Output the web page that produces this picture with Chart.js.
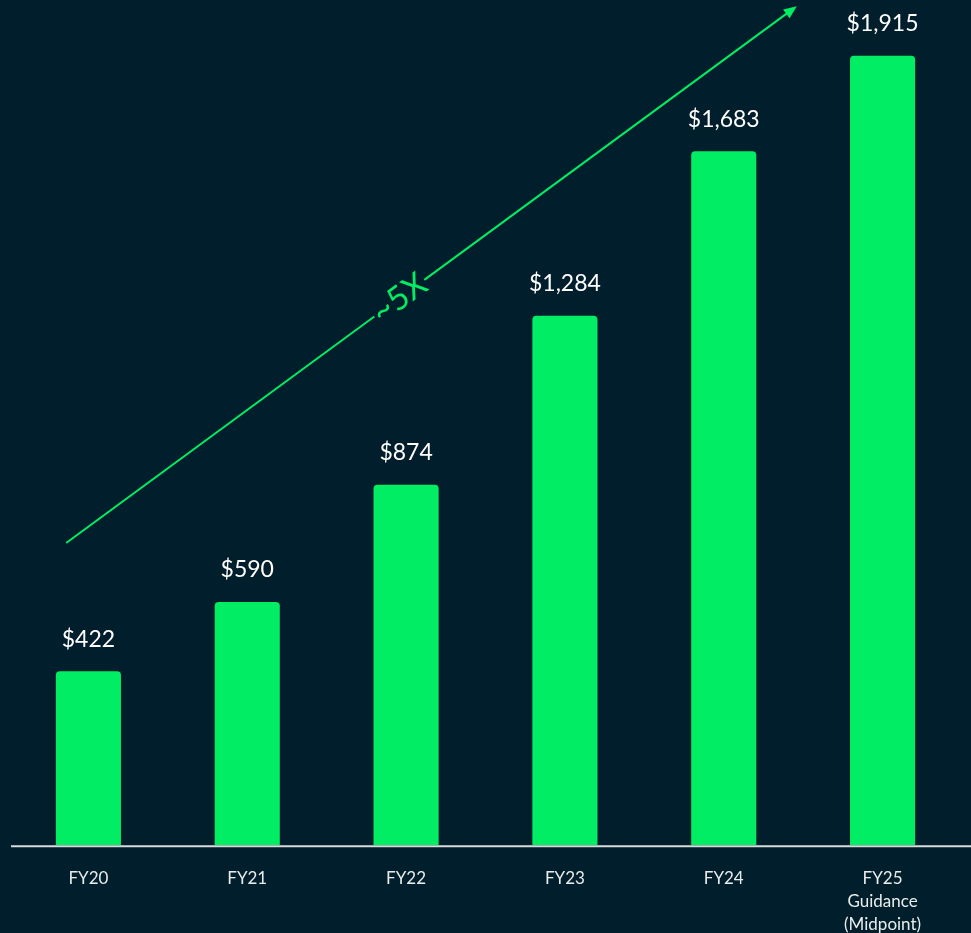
<!DOCTYPE html>
<html>
<head>
<meta charset="utf-8">
<script src="https://cdn.jsdelivr.net/npm/chart.js@4"></script>
<style>
    html, body { margin: 0; padding: 0; background: #001e2b; }
    #wrap { width: 971px; height: 933px; position: relative; }
</style>
</head>
<body>
<div id="wrap"><canvas id="revenue-chart"></canvas></div>
<script>
// Revenue by fiscal year ($M)
var categories = ["FY20", "FY21", "FY22", "FY23", "FY24", ["FY25", "Guidance", "(Midpoint)"]];
var revenue = [422, 590, 874, 1284, 1683, 1915];
var valueLabels = ["$422", "$590", "$874", "$1,284", "$1,683", "$1,915"];

// growth arrow, in [category index, value]
var arrowFrom = [-0.14, 733];
var arrowTo = [4.46, 2035];
var arrowText = "~5X";

var green = "#00ed64";

var extrasPlugin = {
    id: "extras",
    afterDatasetsDraw: function (chart) {
        var ctx = chart.ctx;
        var x = chart.scales.x;
        var y = chart.scales.y;
        var area = chart.chartArea;

        // baseline
        ctx.save();
        ctx.strokeStyle = "#d9dcdc";
        ctx.lineWidth = 2;
        ctx.beginPath();
        ctx.moveTo(11, area.bottom + 1);
        ctx.lineTo(chart.width, area.bottom + 1);
        ctx.stroke();

        // value labels
        ctx.fillStyle = "#ffffff";
        ctx.font = "23px Lato";
        ctx.textAlign = "center";
        ctx.textBaseline = "middle";
        chart.getDatasetMeta(0).data.forEach(function (bar, i) {
            ctx.fillText(valueLabels[i], bar.x, bar.y - 32);
        });

        // arrow
        var x1 = x.getPixelForValue(arrowFrom[0]);
        var y1 = y.getPixelForValue(arrowFrom[1]);
        var x2 = x.getPixelForValue(arrowTo[0]);
        var y2 = y.getPixelForValue(arrowTo[1]);
        var ang = Math.atan2(y2 - y1, x2 - x1);
        var len = Math.hypot(x2 - x1, y2 - y1);
        var t = 0.456;
        var gap = 31;

        ctx.translate(x1, y1);
        ctx.rotate(ang);
        ctx.strokeStyle = green;
        ctx.fillStyle = green;
        ctx.lineWidth = 2;
        ctx.beginPath();
        ctx.moveTo(0, 0);
        ctx.lineTo(len * t - gap, 0);
        ctx.moveTo(len * t + gap, 0);
        ctx.lineTo(len - 8, 0);
        ctx.stroke();
        ctx.beginPath();
        ctx.moveTo(len, 0);
        ctx.lineTo(len - 13, -5.5);
        ctx.lineTo(len - 13, 5.5);
        ctx.closePath();
        ctx.fill();

        ctx.font = "33px Lato";
        ctx.textAlign = "center";
        ctx.textBaseline = "middle";
        ctx.fillText(arrowText, len * t, 0);
        ctx.restore();
    }
};

var ctx = document.getElementById("revenue-chart").getContext("2d");

var chart = new Chart(ctx, {
    type: "bar",
    data: {
        labels: categories,
        datasets: [
            {
                data: revenue,
                backgroundColor: green,
                borderRadius: { topLeft: 4, topRight: 4 },
                borderSkipped: "start",
                categoryPercentage: 1,
                barPercentage: 0.41,
            },
        ],
    },
    options: {
        responsive: true,
        maintainAspectRatio: false,
        animation: false,
        layout: { padding: { top: 0, left: 9, right: 9, bottom: -25 } },
        plugins: {
            legend: { display: false },
            tooltip: { enabled: false },
        },
        scales: {
            x: {
                grid: { display: false, drawTicks: false },
                border: { display: false },
                ticks: {
                    color: "#e8edeb",
                    font: { family: "Lato", size: 17, lineHeight: 1.35 },
                    padding: 22,
                    maxRotation: 0,
                    autoSkip: false,
                },
            },
            y: {
                display: false,
                min: 0,
                max: 2050,
            },
        },
    },
    plugins: [extrasPlugin],
});
</script>
</body>
</html>
